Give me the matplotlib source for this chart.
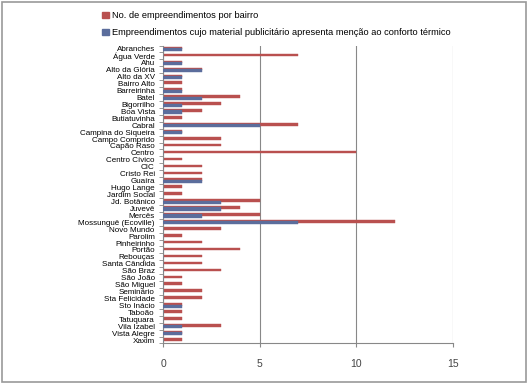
import matplotlib
matplotlib.use("Agg")
import matplotlib.pyplot as plt
from matplotlib.patches import Patch, Rectangle
import numpy as np

# bairros, top to bottom as in the chart
bairros = [
    "Abranches", "Água Verde", "Ahu", "Alto da Glória", "Alto da XV", "Bairro Alto",
    "Barreirinha", "Batel", "Bigorrilho", "Boa Vista", "Butiatuvinha", "Cabral",
    "Campina do Siqueira", "Campo Comprido", "Capão Raso", "Centro", "Centro Cívico",
    "CIC", "Cristo Rei", "Guaíra", "Hugo Lange", "Jardim Social", "Jd. Botânico",
    "Juvevê", "Mercês", "Mossunguê (Ecoville)", "Novo Mundo", "Parolim", "Pinheirinho",
    "Portão", "Rebouças", "Santa Cândida", "São Braz", "São João", "São Miguel",
    "Seminário", "Sta Felicidade", "Sto Inácio", "Taboão", "Tatuquara", "Vila Izabel",
    "Vista Alegre", "Xaxim",
]

# No. de empreendimentos por bairro
total = [1, 7, 1, 2, 1, 1, 1, 4, 3, 2, 1, 7, 1, 3, 3, 10, 1, 2, 2, 2, 1, 1, 5,
         4, 5, 12, 3, 1, 2, 4, 2, 2, 3, 1, 1, 2, 2, 1, 1, 1, 3, 1, 1]
# com menção ao conforto térmico
conforto = [1, 0, 1, 2, 1, 0, 1, 2, 1, 1, 0, 5, 1, 0, 0, 0, 0, 0, 0, 2, 0, 0, 3,
            3, 2, 7, 0, 0, 0, 0, 0, 0, 0, 0, 0, 0, 0, 1, 0, 0, 1, 1, 0]

lbl_total = "No. de empreendimentos por bairro"
lbl_conforto = "Empreendimentos cujo material publicitário apresenta menção ao conforto térmico"

red = "#B9504F"
blue = "#5B6D9C"

plt.rcParams["font.family"] = ["Liberation Sans", "DejaVu Sans"]

fig = plt.figure(figsize=(5.28, 3.84), dpi=100)
ax = fig.add_axes([0.309, 0.1055, 0.549, 0.776])

y = np.arange(len(bairros))
ax.barh(y - 0.12, total, height=0.38, color=red, edgecolor=red, linewidth=0.3, zorder=2)
ax.barh(y + 0.1, conforto, height=0.45, color=blue, edgecolor=blue, linewidth=0.3, zorder=3)

ax.set_xlim(0, 15)
ax.set_ylim(len(bairros) - 0.5, -0.5)
ax.set_xticks([0, 5, 10, 15])
ax.tick_params(axis="x", labelsize=7.5, colors="#444444", length=3, pad=8, color="#888888")
ax.set_yticks(y)
ax.set_yticklabels(bairros, fontsize=5.8)
ax.tick_params(axis="y", length=0, pad=6)
ax.set_yticks(np.arange(len(bairros) + 1) - 0.5, minor=True)
ax.tick_params(axis="y", which="minor", length=3, color="#888888")
ax.grid(axis="x", color="#888888", linewidth=0.8, zorder=0)
for s in ["top", "right"]:
    ax.spines[s].set_visible(False)
ax.spines["left"].set_color("#888888")
ax.spines["bottom"].set_color("#888888")

handles = [Patch(color=red), Patch(color=blue)]
fig.legend(handles, [lbl_total, lbl_conforto], loc="upper left",
           bbox_to_anchor=(0.178, 0.992), frameon=False, fontsize=6.7,
           handlelength=0.7, handleheight=0.7, handletextpad=0.3, labelspacing=0.85)

fig.patches.append(Rectangle((0.004, 0.004), 0.992, 0.992, transform=fig.transFigure,
                             fill=False, edgecolor="#999999", linewidth=1.2))

fig.savefig("out.png", dpi=100)
